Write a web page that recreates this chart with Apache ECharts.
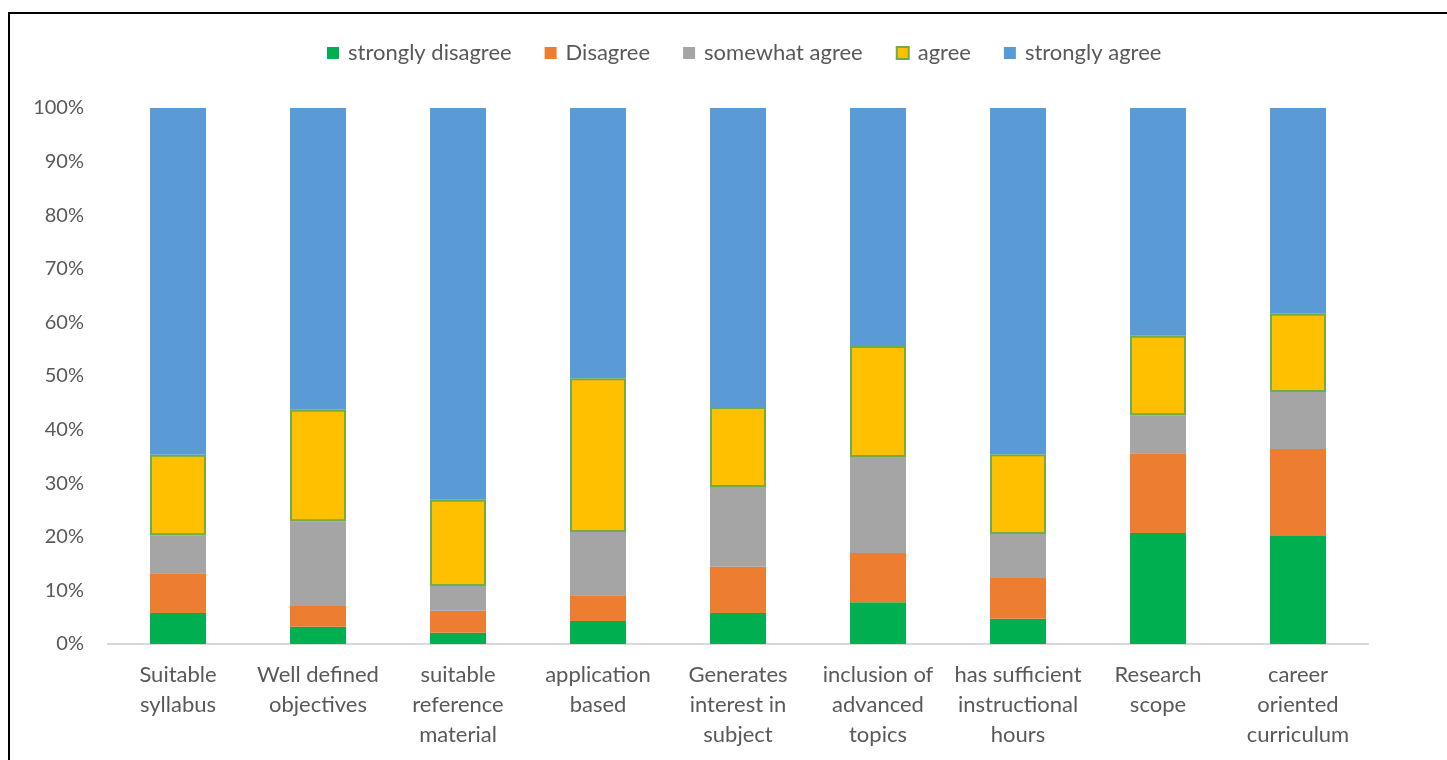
<!DOCTYPE html>
<html><head><meta charset="utf-8">
<script src="https://cdn.jsdelivr.net/npm/echarts@6/dist/echarts.min.js"></script>
<style>html,body{margin:0;padding:0;background:#fff;}#c{width:1447px;height:760px;}</style>
</head><body><div id="c"></div>
<script>
const categories = ['Suitable\nsyllabus','Well defined\nobjectives','suitable\nreference\nmaterial','application\nbased','Generates\ninterest in\nsubject','inclusion of\nadvanced\ntopics','has sufficient\ninstructional\nhours','Research\nscope','career\noriented\ncurriculum'];
const stronglyDisagree = [5.8, 3.2, 2.1, 4.3, 5.8, 7.8, 4.7, 20.7, 20.3];
const disagree         = [7.4, 3.9, 4.1, 4.8, 8.6, 9.2, 7.6, 14.9, 16.1];
const somewhatAgree    = [7.1, 15.8, 4.6, 11.8, 14.9, 17.9, 8.2, 7.1, 10.6];
const agree            = [15.0, 20.8, 16.1, 28.7, 14.9, 20.7, 14.9, 14.8, 14.6];
const stronglyAgree    = [64.7, 56.3, 73.1, 50.4, 55.8, 44.4, 64.6, 42.5, 38.4];
const yTicks = [0,10,20,30,40,50,60,70,80,90,100];

const font = 'Lato, "Open Sans", sans-serif';
const chart = echarts.init(document.getElementById('c'));
function s(name, data, color, border, bw){
  return {name, type:'bar', stack:'t', data, barWidth:56,
    itemStyle:{color, borderColor:border||color, borderWidth:bw||0}};
}
chart.setOption({
  animation:false,
  graphic:[{type:'rect', shape:{x:9,y:13,width:1500,height:800}, style:{fill:'none',stroke:'#000',lineWidth:2}, z:100}],
  legend:{top:37, left:322, icon:'rect', itemWidth:12, itemHeight:12, itemGap:33,
    textStyle:{fontFamily:font, fontSize:22, color:'#595959', padding:[0,0,0,4]}},
  grid:{left:108, right:79, top:108, bottom:116, containLabel:false},
  xAxis:{type:'category', data:categories,
    axisLine:{lineStyle:{color:'#D9D9D9', width:2}}, axisTick:{show:false},
    axisLabel:{fontFamily:font, fontSize:22, color:'#595959', lineHeight:30, margin:16, interval:0}},
  yAxis:{type:'value', min:0, max:100, interval:10,
    axisLine:{show:false}, axisTick:{show:false}, splitLine:{show:false},
    axisLabel:{fontFamily:font, fontSize:20, color:'#595959', margin:24,
      formatter:v=>yTicks.includes(v)?v+'%':''}},
  series:[
    s('strongly disagree', stronglyDisagree, '#00B050'),
    s('Disagree', disagree, '#ED7D31'),
    s('somewhat agree', somewhatAgree, '#A5A5A5'),
    s('agree', agree, '#FFC000', '#70AD47', 2),
    s('strongly agree', stronglyAgree, '#5B9BD5')
  ]
});
</script></body></html>
